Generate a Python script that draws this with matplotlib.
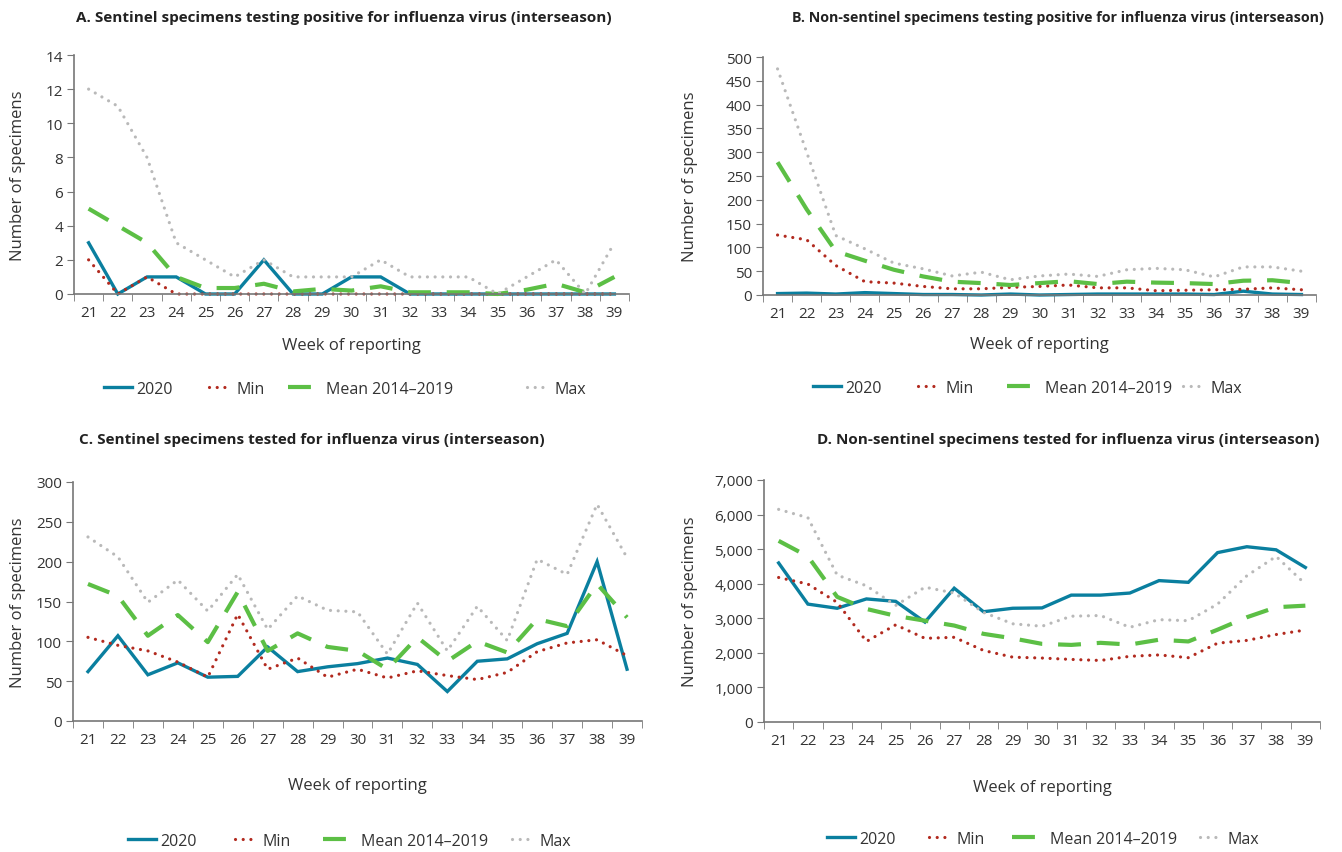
import matplotlib
matplotlib.use('Agg')
import matplotlib.pyplot as plt
from matplotlib.ticker import FuncFormatter, FixedLocator

plt.rcParams['font.family'] = ['Open Sans', 'DejaVu Sans']

weeks = list(range(21, 40))

# A. sentinel, positive
a_2020 = [3, 0, 1, 1, 0, 0, 2, 0, 0, 1, 1, 0, 0, 0, 0, 0, 0, 0, 0]
a_min = [2, 0, 1, 0, 0, 0, 0, 0, 0, 0, 0, 0, 0, 0, 0, 0, 0, 0, 0]
a_mean = [5, 4, 3, 1, 0.35, 0.35, 0.6, 0.15, 0.3, 0.2, 0.45, 0.1, 0.1, 0.1, 0, 0.25, 0.6, 0.1, 1.0]
a_max = [12, 11, 8, 3, 2, 1, 2, 1, 1, 1, 2, 1, 1, 1, 0, 1, 2, 0, 3]

# B. non-sentinel, positive
b_2020 = [3, 4, 2, 5, 3, 1, 1, 0, 2, 0, 1, 2, 2, 2, 2, 1, 8, 2, 1]
b_min = [126, 116, 62, 28, 25, 18, 13, 13, 16, 18, 21, 15, 15, 9, 10, 11, 12, 15, 11]
b_mean = [279, 180, 92, 72, 53, 39, 28, 25, 21, 25, 29, 23, 28, 26, 25, 23, 30, 31, 25]
b_max = [475, 300, 125, 97, 67, 55, 40, 48, 32, 40, 44, 39, 53, 56, 53, 38, 59, 59, 50]

# C. sentinel, tested
c_2020 = [62, 107, 58, 73, 55, 56, 93, 62, 68, 72, 79, 71, 37, 75, 78, 97, 110, 200, 65]
c_min = [105, 95, 88, 74, 55, 134, 65, 79, 55, 65, 54, 63, 57, 52, 61, 87, 98, 102, 82]
c_mean = [172, 157, 107, 133, 99, 162, 88, 110, 93, 88, 65, 105, 75, 100, 86, 128, 119, 172, 130]
c_max = [231, 206, 149, 177, 138, 184, 115, 157, 139, 137, 84, 148, 88, 144, 101, 203, 184, 272, 205]

# D. non-sentinel, tested
d_2020 = [4600, 3410, 3290, 3560, 3490, 2890, 3870, 3190, 3290, 3300, 3670, 3670, 3730, 4090, 4040, 4900, 5070, 4980, 4470]
d_min = [4180, 3990, 3460, 2330, 2810, 2420, 2450, 2070, 1875, 1850, 1810, 1780, 1900, 1940, 1860, 2280, 2360, 2530, 2660]
d_mean = [5240, 4790, 3620, 3270, 3070, 2930, 2790, 2550, 2420, 2260, 2230, 2290, 2240, 2380, 2330, 2670, 3030, 3320, 3365]
d_max = [6150, 5910, 4250, 3940, 3370, 3900, 3730, 3170, 2840, 2770, 3060, 3080, 2740, 2960, 2930, 3410, 4230, 4790, 3990]

labels = ['2020', 'Min', 'Mean 2014\u20132019', 'Max']
handle_len = [1.75, 1.45, 2.1, 1.45]

W, H = 1342, 853
fig = plt.figure(figsize=(W / 100, H / 100), dpi=100)


def rect(left, right, top, bottom):
    return [left / W, 1 - bottom / H, (right - left) / W, (bottom - top) / H]


def panel(r, series, ymax, ystep, title, title_xy, title_size, ylab_x, xlab_y, leg_y, leg_x,
          comma=False):
    ax = fig.add_axes(rect(*r))
    s2020, smin, smean, smax = series
    h1, = ax.plot(weeks, s2020, color='#0a7f9f', lw=2.4, solid_joinstyle='miter')
    h2, = ax.plot(weeks, smin, color='#b22a1f', lw=2.3, linestyle=(0, (0.01, 2.4)),
                  dash_capstyle='round')
    h3, = ax.plot(weeks, smean, color='#5cbf45', lw=3.0, linestyle=(0, (5.5, 3.8)))
    h4, = ax.plot(weeks, smax, color='#b9b9b9', lw=2.3, linestyle=(0, (0.01, 2.4)),
                  dash_capstyle='round')
    ax.set_xlim(20.5, 39.5)
    ax.set_ylim(0, ymax)
    ax.set_yticks([v * ystep for v in range(int(ymax / ystep) + 1)])
    if comma:
        ax.yaxis.set_major_formatter(FuncFormatter(lambda v, p: '{:,.0f}'.format(v)))
    ax.set_xticks(weeks)
    ax.xaxis.set_minor_locator(FixedLocator([w - 0.5 for w in range(21, 41)]))
    ax.tick_params(axis='x', which='major', length=0, pad=8, labelsize=11, labelcolor='#333333')
    ax.tick_params(axis='x', which='minor', length=5, color='#777777', direction='out')
    ax.tick_params(axis='y', length=5, color='#777777', labelsize=11, labelcolor='#333333', pad=3)
    for side in ['top', 'right']:
        ax.spines[side].set_visible(False)
    for side in ['left', 'bottom']:
        ax.spines[side].set_color('#777777')
        ax.spines[side].set_linewidth(1.2)
    for ln in (h1, h2, h3, h4):
        ln.set_clip_on(False)
    fig.text(title_xy[0] / W, 1 - title_xy[1] / H, title, fontsize=title_size, fontweight='bold',
             color='#222222', va='center', ha='left')
    fig.text(ylab_x / W, 1 - (r[2] + r[3]) / 2 / H, 'Number of specimens', rotation=90,
             fontsize=12, color='#333333', va='center', ha='center')
    fig.text((r[0] + r[1]) / 2 / W, 1 - xlab_y / H, 'Week of reporting',
             fontsize=12, color='#333333', va='center', ha='center')
    handles = [h1, h2, h3, h4]
    for h, lab, x, hl in zip(handles, labels, leg_x, handle_len):
        fig.legend([h], [lab], loc='center left', bbox_to_anchor=(x / W, 1 - leg_y / H),
                   frameon=False, fontsize=11.5, handlelength=hl, handletextpad=0.3,
                   borderpad=0, borderaxespad=0, labelcolor='#333333')
    return ax


panel((74, 629, 56, 295), (a_2020, a_min, a_mean, a_max), 14, 2,
      'A. Sentinel specimens testing positive for influenza virus (interseason)',
      (76, 18), 11, 18, 346, 390, (104, 209, 288, 527))
panel((763, 1316, 58, 296), (b_2020, b_min, b_mean, b_max), 500, 50,
      'B. Non-sentinel specimens testing positive for influenza virus (interseason)',
      (792, 18), 10.3, 690, 345, 389, (813, 918, 1007, 1183))
panel((73, 642, 483, 722), (c_2020, c_min, c_mean, c_max), 300, 50,
      'C. Sentinel specimens tested for influenza virus (interseason)',
      (79, 440), 11, 18, 786, 842, (128, 235, 323, 512))
panel((764, 1320, 481, 723), (d_2020, d_min, d_mean, d_max), 7000, 1000,
      'D. Non-sentinel specimens tested for influenza virus (interseason)',
      (817, 440), 11, 690, 788, 840, (827, 929, 1012, 1200), comma=True)

fig.savefig('out.png', dpi=100, facecolor='white')
